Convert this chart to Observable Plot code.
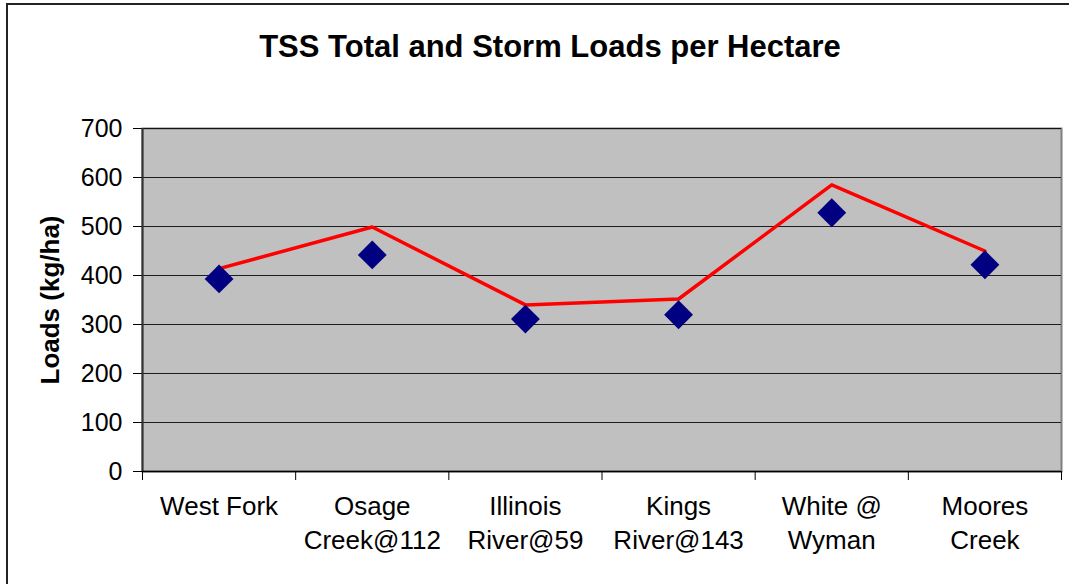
<!DOCTYPE html>
<html>
<head>
<meta charset="utf-8">
<script src="https://cdn.jsdelivr.net/npm/d3@7"></script>
<script src="https://cdn.jsdelivr.net/npm/@observablehq/plot@0.6"></script>
<style>
  html, body { margin: 0; padding: 0; background: #fff; overflow: hidden; }
  #wrap { position: relative; width: 1069px; height: 584px; }
  #border { position: absolute; left: 6px; top: 3px; width: 1100px; height: 700px;
            border-left: 2px solid #222; border-top: 2px solid #222; box-sizing: border-box; pointer-events: none; }
  svg { font-family: "Liberation Sans", Arial, sans-serif; }
</style>
</head>
<body>
<div id="wrap"><div id="border"></div></div>
<script>
const categories = ["West Fork", "Osage\nCreek@112", "Illinois\nRiver@59", "Kings\nRiver@143", "White @\nWyman", "Moores\nCreek"];
const totalLoads = [414, 499, 340, 352, 585, 450];
const stormLoads = [393, 442, 311, 320, 528, 422];
const yTicks = [0, 100, 200, 300, 400, 500, 600, 700];
const titleText = "TSS Total and Storm Loads per Hectare";
const yLabel = "Loads (kg/ha)";

const data = categories.map((c, i) => ({pos: i + 0.5, cat: c, total: totalLoads[i], storm: stormLoads[i]}));
const boundaries = d3.range(categories.length + 1);

const chart = Plot.plot({
  width: 1069,
  height: 584,
  marginLeft: 142,
  marginRight: 8,
  marginTop: 128,
  marginBottom: 113,
  style: {fontFamily: "'Liberation Sans', Arial, sans-serif", background: "transparent", color: "#000"},
  x: {type: "linear", domain: [0, categories.length], label: null},
  y: {type: "linear", domain: [0, 700], label: null},
  marks: [
    Plot.frame({fill: "#C0C0C0"}),
    Plot.frame({stroke: "#808080", strokeWidth: 2}),
    Plot.gridY(yTicks, {stroke: "#000", strokeOpacity: 0.85, strokeWidth: 1}),
    Plot.axisY(yTicks, {tickSize: 9, tickPadding: 11, fontSize: 25, label: null, stroke: "#000"}),
    Plot.axisX(boundaries, {tickSize: 9, tickFormat: () => "", label: null, stroke: "#000"}),
    Plot.axisX(data.map(d => d.pos), {tickSize: 0, tickPadding: 19, fontSize: 26, lineHeight: 1.31,
      tickFormat: (d) => categories[Math.round(d - 0.5)], label: null}),
    Plot.ruleX([0], {stroke: "#333", strokeWidth: 2}),
    Plot.ruleY([0], {stroke: "#000", strokeWidth: 1.5}),
    Plot.line(data, {x: "pos", y: "total", stroke: "#FF0000", strokeWidth: 3.5}),
    Plot.dot(data, {x: "pos", y: "storm", symbol: "diamond2", r: 13, fill: "#000080", stroke: "none"}),
    Plot.text([titleText], {frameAnchor: "top", dx: -52, dy: -94, fontSize: 31, fontWeight: "bold", fill: "#000"}),
    Plot.text([yLabel], {frameAnchor: "left", dx: -92, rotate: -90, textAnchor: "middle", fontSize: 26, fontWeight: "bold", fill: "#000"})
  ]
});
document.getElementById("wrap").prepend(chart);
</script>
</body>
</html>
